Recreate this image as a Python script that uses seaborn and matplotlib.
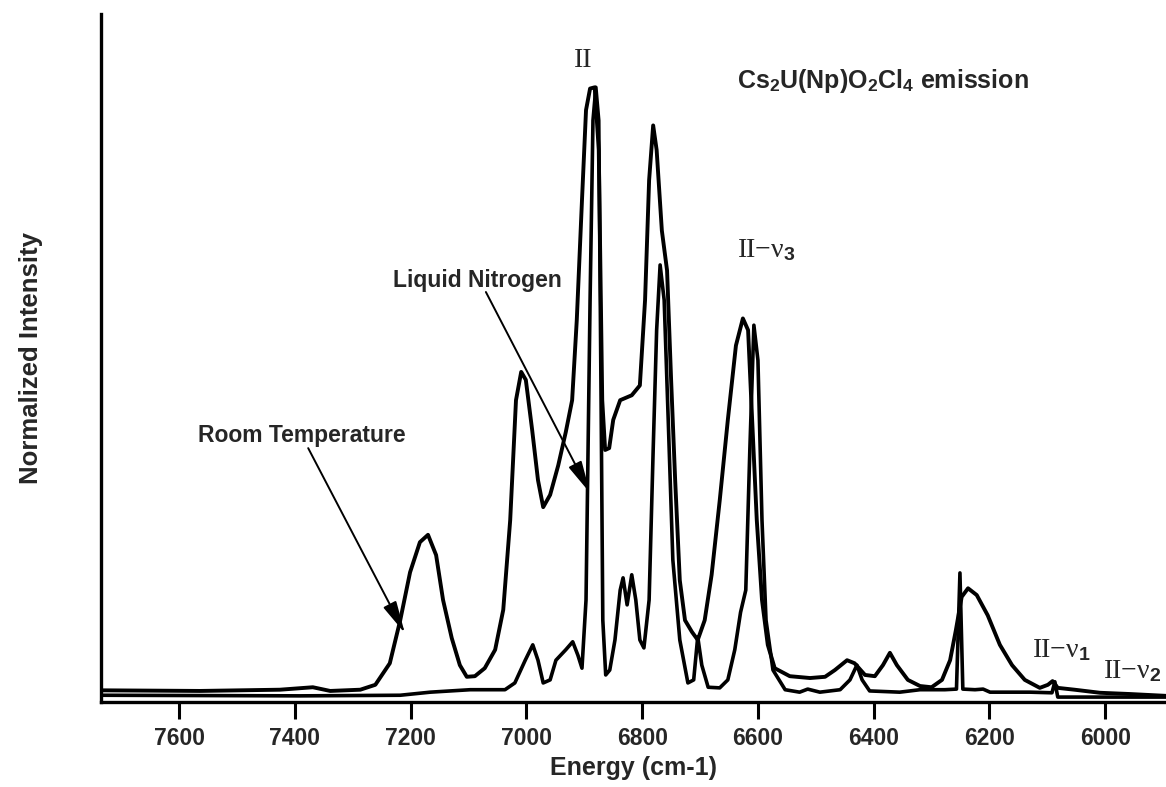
import numpy as np
import pandas as pd
import matplotlib
matplotlib.use("Agg")
import matplotlib.pyplot as plt
import seaborn as sns

# ---------------- data ----------------
rt_energy = [7735, 7564, 7426, 7369, 7339, 7287, 7261, 7236, 7218, 7201, 7184, 7170,
             7156, 7144, 7129, 7115, 7103, 7089, 7072, 7054, 7040, 7028, 7018, 7009,
             7001, 6990, 6980, 6971, 6959, 6945, 6932, 6921, 6913, 6904, 6897, 6890,
             6882, 6875, 6869, 6864, 6857, 6850, 6838, 6818, 6804, 6795, 6788, 6781,
             6775, 6766, 6757, 6750, 6743, 6735, 6726, 6714, 6704, 6692, 6680, 6666,
             6652, 6638, 6626, 6617, 6610, 6602, 6593, 6583, 6571, 6545, 6510, 6484,
             6467, 6446, 6433, 6415, 6398, 6384, 6372, 6360, 6341, 6320, 6300, 6282,
             6268, 6258, 6248, 6237, 6222, 6203, 6182, 6161, 6139, 6113, 6099, 6091,
             6082, 6053, 6009, 5958, 5895]
rt_intensity = [0.019, 0.018, 0.020, 0.024, 0.018, 0.020, 0.028, 0.063, 0.133, 0.211, 0.260, 0.272,
                0.239, 0.166, 0.104, 0.060, 0.041, 0.042, 0.055, 0.085, 0.150, 0.296, 0.491, 0.537,
                0.524, 0.442, 0.361, 0.317, 0.337, 0.385, 0.439, 0.491, 0.621, 0.816, 0.963, 0.998,
                1.000, 0.898, 0.491, 0.410, 0.413, 0.459, 0.491, 0.499, 0.515, 0.654, 0.849, 0.938,
                0.898, 0.767, 0.702, 0.524, 0.361, 0.198, 0.133, 0.114, 0.101, 0.133, 0.207, 0.328,
                0.459, 0.580, 0.624, 0.605, 0.459, 0.296, 0.166, 0.093, 0.055, 0.042, 0.039, 0.041,
                0.052, 0.068, 0.063, 0.044, 0.042, 0.060, 0.080, 0.060, 0.036, 0.026, 0.024, 0.036,
                0.068, 0.117, 0.171, 0.185, 0.174, 0.141, 0.093, 0.060, 0.036, 0.023, 0.028, 0.034,
                0.023, 0.020, 0.015, 0.013, 0.010]

ln_energy = [7735, 7391, 7218, 7166, 7097, 7037, 7020, 7002, 6989, 6980, 6971, 6959,
             6949, 6942, 6932, 6920, 6911, 6904, 6897, 6890, 6885, 6880, 6875, 6871,
             6868, 6863, 6856, 6847, 6838, 6833, 6826, 6818, 6811, 6804, 6797, 6788,
             6781, 6775, 6769, 6762, 6755, 6747, 6735, 6721, 6711, 6704, 6697, 6686,
             6666, 6652, 6640, 6630, 6621, 6614, 6607, 6600, 6593, 6586, 6574, 6553,
             6528, 6514, 6493, 6458, 6441, 6429, 6420, 6407, 6355, 6320, 6277, 6257,
             6251, 6246, 6225, 6211, 6199, 6130, 6092, 6087, 6082, 6009, 5895]
ln_intensity = [0.011, 0.010, 0.011, 0.016, 0.020, 0.020, 0.031, 0.068, 0.093, 0.068, 0.031, 0.036,
                0.068, 0.075, 0.085, 0.098, 0.076, 0.055, 0.166, 0.654, 0.946, 1.000, 0.946, 0.491,
                0.133, 0.044, 0.052, 0.101, 0.182, 0.202, 0.158, 0.207, 0.166, 0.101, 0.088, 0.166,
                0.410, 0.605, 0.711, 0.654, 0.459, 0.231, 0.101, 0.031, 0.036, 0.106, 0.060, 0.024,
                0.023, 0.036, 0.085, 0.146, 0.182, 0.410, 0.613, 0.556, 0.296, 0.133, 0.052, 0.020,
                0.016, 0.021, 0.016, 0.020, 0.036, 0.060, 0.036, 0.018, 0.016, 0.020, 0.020, 0.021,
                0.210, 0.021, 0.020, 0.021, 0.016, 0.016, 0.015, 0.033, 0.008, 0.008, 0.008]

x_ticks = [7600, 7400, 7200, 7000, 6800, 6600, 6400, 6200, 6000]

# ---------------- style ----------------
sns.set_style("white")
plt.rcParams["font.family"] = ["Liberation Sans", "DejaVu Sans"]
plt.rcParams["mathtext.fontset"] = "custom"
plt.rcParams["mathtext.rm"] = "Liberation Serif"
plt.rcParams["mathtext.it"] = "Liberation Serif:italic"
plt.rcParams["mathtext.bf"] = "Liberation Sans:bold"

fig = plt.figure(figsize=(11.66, 7.87), dpi=100)
ax = fig.add_axes([0.0866, 0.108, 0.9134, 0.874])

rt = pd.DataFrame({"Energy": rt_energy, "Intensity": rt_intensity})
ln = pd.DataFrame({"Energy": ln_energy, "Intensity": ln_intensity})

sns.lineplot(data=rt, x="Energy", y="Intensity", ax=ax, color="black",
             linewidth=2.8, estimator=None, sort=False)
sns.lineplot(data=ln, x="Energy", y="Intensity", ax=ax, color="black",
             linewidth=2.6, estimator=None, sort=False)

ax.set_xlim(7735, 5895)
ax.set_ylim(0, 1.119)
ax.set_xticks(x_ticks)
ax.set_xticklabels([str(t) for t in x_ticks], fontsize=16.5, fontweight="bold")
ax.set_yticks([])
ax.tick_params(axis="x", direction="out", length=12, width=2.2, pad=6,
               bottom=True, color="black")
for s in ["top", "right"]:
    ax.spines[s].set_visible(False)
for s in ["left", "bottom"]:
    ax.spines[s].set_linewidth(2.4)
    ax.spines[s].set_color("black")

ax.set_xlabel("Energy (cm-1)", fontsize=18, fontweight="bold", labelpad=4)
ax.set_ylabel("Normalized Intensity", fontsize=18.5, fontweight="bold", labelpad=42)

# ---------------- annotations ----------------
serif = "Liberation Serif"
ax.text(6902, 1.044, "II", fontsize=20, family=serif, ha="center", va="center")
ax.text(6636, 0.735, r"II$-\mathrm{\nu}_{\mathbf{3}}$", fontsize=20, family=serif,
        ha="left", va="center")
ax.text(6127, 0.085, r"II$-\mathrm{\nu}_{\mathbf{1}}$", fontsize=20, family=serif,
        ha="left", va="center")
ax.text(6004, 0.050, r"II$-\mathrm{\nu}_{\mathbf{2}}$", fontsize=20, family=serif,
        ha="left", va="center", clip_on=False)
ax.text(6636, 1.011, r"Cs$_{\mathbf{2}}$U(Np)O$_{\mathbf{2}}$Cl$_{\mathbf{4}}$ emission",
        fontsize=18, fontweight="bold", ha="left", va="center")

arrow = dict(arrowstyle="-|>,head_length=0.9,head_width=0.2", color="black", lw=1.4,
             mutation_scale=22, shrinkA=0, shrinkB=0)
ax.annotate("", xy=(6890, 0.340), xytext=(7070, 0.667), arrowprops=arrow)
ax.text(7230, 0.686, "Liquid Nitrogen", fontsize=16.5, fontweight="bold",
        ha="left", va="center")
ax.annotate("", xy=(7210, 0.112), xytext=(7377, 0.413), arrowprops=arrow)
ax.text(7567, 0.433, "Room Temperature", fontsize=16.5, fontweight="bold",
        ha="left", va="center")

fig.savefig("out.png", dpi=100, facecolor="white")
